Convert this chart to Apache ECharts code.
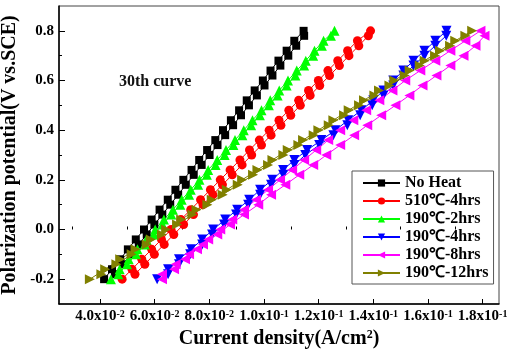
<!DOCTYPE html>
<html>
<head>
<meta charset="utf-8">
<script src="https://cdn.jsdelivr.net/npm/echarts@6/dist/echarts.min.js"></script>
<style>
  html, body { margin: 0; padding: 0; background: #fff; }
  #chart { width: 509px; height: 349px; }
</style>
</head>
<body>
<div id="chart"></div>
<script>
// potential steps of the forward and the return sweep (V vs. SCE)
var potFwd = [-0.2, -0.16, -0.12, -0.08, -0.04, 0, 0.04, 0.08, 0.12, 0.16, 0.2, 0.24, 0.28,
  0.32, 0.36, 0.4, 0.44, 0.48, 0.52, 0.56, 0.6, 0.64, 0.68, 0.72, 0.76, 0.8];
var potRev = [-0.18, -0.14, -0.1, -0.06, -0.02, 0.02, 0.06, 0.1, 0.14, 0.18, 0.22, 0.26, 0.3,
  0.34, 0.38, 0.42, 0.46, 0.5, 0.54, 0.58, 0.62, 0.66, 0.7, 0.74, 0.78];

// current density (A/cm2)
var noHeatFwd = [0.0415, 0.0444, 0.0474, 0.0502, 0.0531, 0.0561, 0.0589, 0.0618, 0.0648, 0.0676,
  0.0705, 0.0735, 0.0763, 0.0792, 0.0822, 0.0850, 0.0879, 0.0909, 0.0937, 0.0966, 0.0996, 0.1024,
  0.1053, 0.1083, 0.1111, 0.1145];
var noHeatRev = [0.0455, 0.0484, 0.0513, 0.0542, 0.0571, 0.0599, 0.0628, 0.0657, 0.0686, 0.0714,
  0.0743, 0.0772, 0.0801, 0.0830, 0.0858, 0.0887, 0.0916, 0.0945, 0.0974, 0.1002, 0.1031, 0.1060,
  0.1089, 0.1118, 0.1147];
var h510Fwd = [0.0481, 0.0517, 0.0553, 0.0589, 0.0625, 0.0660, 0.0696, 0.0732, 0.0768, 0.0804,
  0.0840, 0.0876, 0.0912, 0.0947, 0.0983, 0.1019, 0.1055, 0.1091, 0.1127, 0.1163, 0.1199, 0.1234,
  0.1270, 0.1306, 0.1342, 0.1390];
var h510Rev = [0.0528, 0.0564, 0.0599, 0.0635, 0.0670, 0.0706, 0.0742, 0.0777, 0.0813, 0.0848,
  0.0884, 0.0920, 0.0955, 0.0991, 0.1026, 0.1062, 0.1098, 0.1133, 0.1169, 0.1204, 0.1240, 0.1276,
  0.1311, 0.1347, 0.1382];
var h190h2Fwd = [0.0440, 0.0472, 0.0505, 0.0537, 0.0570, 0.0602, 0.0634, 0.0667, 0.0699, 0.0732,
  0.0764, 0.0796, 0.0829, 0.0861, 0.0894, 0.0926, 0.0958, 0.0991, 0.1023, 0.1056, 0.1088, 0.1120,
  0.1153, 0.1185, 0.1218, 0.1258];
var h190h2Rev = [0.0467, 0.0499, 0.0532, 0.0564, 0.0597, 0.0629, 0.0661, 0.0694, 0.0726, 0.0759,
  0.0791, 0.0823, 0.0856, 0.0888, 0.0921, 0.0953, 0.0985, 0.1018, 0.1050, 0.1083, 0.1115, 0.1147,
  0.1180, 0.1212, 0.1245];
var h190h4Fwd = [0.0609, 0.0649, 0.0689, 0.0733, 0.0774, 0.0814, 0.0858, 0.0902, 0.0946, 0.0986,
  0.1030, 0.1070, 0.1111, 0.1158, 0.1210, 0.1261, 0.1308, 0.1356, 0.1400, 0.1437, 0.1473, 0.1510,
  0.1547, 0.1587, 0.1627, 0.1668];
var h190h4Rev = [0.0649, 0.0689, 0.0730, 0.0774, 0.0810, 0.0854, 0.0898, 0.0942, 0.0986, 0.1026,
  0.1070, 0.1111, 0.1151, 0.1202, 0.1254, 0.1305, 0.1352, 0.1396, 0.1437, 0.1473, 0.1510, 0.1547,
  0.1587, 0.1627, 0.1667];
var h190h8Fwd = [0.0627, 0.0671, 0.0711, 0.0755, 0.0796, 0.0840, 0.0884, 0.0927, 0.0971, 0.1015,
  0.1059, 0.1103, 0.1147, 0.1191, 0.1235, 0.1279, 0.1327, 0.1374, 0.1422, 0.1470, 0.1517, 0.1572,
  0.1627, 0.1682, 0.1737, 0.1792];
var h190h8Rev = [0.0627, 0.0677, 0.0726, 0.0777, 0.0829, 0.0876, 0.0927, 0.0979, 0.1026, 0.1078,
  0.1129, 0.1180, 0.1228, 0.1279, 0.1330, 0.1378, 0.1429, 0.1481, 0.1532, 0.1580, 0.1631, 0.1682,
  0.1730, 0.1774, 0.1807];
var h190h12Fwd = [0.0363, 0.0419, 0.0474, 0.0530, 0.0586, 0.0642, 0.0697, 0.0753, 0.0809, 0.0864,
  0.0920, 0.0976, 0.1031, 0.1087, 0.1143, 0.1199, 0.1254, 0.1310, 0.1366, 0.1421, 0.1477, 0.1533,
  0.1588, 0.1644, 0.1700, 0.1762];
var h190h12Rev = [0.0405, 0.0460, 0.0516, 0.0571, 0.0627, 0.0682, 0.0738, 0.0793, 0.0849, 0.0904,
  0.0960, 0.1015, 0.1071, 0.1126, 0.1182, 0.1237, 0.1293, 0.1348, 0.1404, 0.1459, 0.1515, 0.1570,
  0.1626, 0.1681, 0.1737];

var names = ["No Heat", "510\u2103-4hrs", "190\u2103-2hrs", "190\u2103-4hrs", "190\u2103-8hrs", "190\u2103-12hrs"];
var colors = ["#000000", "#ff0000", "#00ff00", "#0000ff", "#ff00ff", "#808000"];

var xMajor = [0.04, 0.06, 0.08, 0.1, 0.12, 0.14, 0.16, 0.18];
var xMinor = [0.03, 0.05, 0.07, 0.09, 0.11, 0.13, 0.15, 0.17];
var yMajor = [-0.2, 0, 0.2, 0.4, 0.6, 0.8];
var yMinor = [-0.1, 0.1, 0.3, 0.5, 0.7];

// one cyclic curve: forward sweep up, return sweep down
function loop(fwd, rev) {
  var pts = [];
  for (var i = 0; i < fwd.length; i++) pts.push([fwd[i], potFwd[i]]);
  for (var j = rev.length - 1; j >= 0; j--) pts.push([rev[j], potRev[j]]);
  return pts;
}

var curves = [
  loop(noHeatFwd, noHeatRev),
  loop(h510Fwd, h510Rev),
  loop(h190h2Fwd, h190h2Rev),
  loop(h190h4Fwd, h190h4Rev),
  loop(h190h8Fwd, h190h8Rev),
  loop(h190h12Fwd, h190h12Rev)
];
var symbols = ["rect", "circle", "triangle", "triangle", "triangle", "triangle"];
var rotates = [0, 0, 0, 180, 90, -90];
var sizes = [8, 9, 10, 10, 10, 10];

var font = "Liberation Serif";

function xLabel(v) {
  var m, e;
  if (v < 0.095) { m = v * 100; e = "-2"; } else { m = v * 10; e = "-1"; }
  return "{b|" + m.toFixed(1) + "x10}{s|" + e + "}";
}

var series = names.map(function (n, i) {
  return {
    name: n,
    type: "line",
    data: curves[i],
    symbol: symbols[i],
    symbolRotate: rotates[i],
    symbolSize: sizes[i],
    showAllSymbol: true,
    itemStyle: { color: colors[i] },
    lineStyle: { color: colors[i], width: 1 },
    emphasis: { disabled: true }
  };
});

var myChart = echarts.init(document.getElementById("chart"));
var option = {
  animation: false,
  grid: {
    left: 59, right: 10, top: 6, bottom: 45,
    outerBoundsMode: "none",
    containLabel: false,
    show: true, borderColor: "#444", borderWidth: 1
  },
  legend: {
    orient: "vertical",
    left: 352, top: 171,
    padding: [4, 5, 3, 10],
    itemGap: 2,
    itemWidth: 37,
    itemHeight: 9,
    borderColor: "#555",
    borderWidth: 1,
    textStyle: { fontFamily: font, fontWeight: "bold", fontSize: 16, color: "#000" },
    data: names
  },
  graphic: [{
    type: "text",
    left: 119, top: 74,
    style: { text: "30th curve", font: "bold 16px " + font, fill: "#111" }
  }],
  xAxis: [{
    type: "value",
    min: 0.025, max: 0.186,
    name: "{a|Current density(A/cm}{s|2}{a|)}",
    nameLocation: "middle",
    nameGap: 23,
    nameTextStyle: {
      rich: {
        a: { fontFamily: font, fontWeight: "bold", fontSize: 20, color: "#000" },
        s: { fontFamily: font, fontWeight: "bold", fontSize: 12, color: "#000", verticalAlign: "top" }
      }
    },
    splitLine: { show: false },
    axisLine: { onZero: false, lineStyle: { color: "#000", width: 1.5 } },
    axisTick: { inside: true, length: 5, customValues: xMajor, lineStyle: { color: "#000" } },
    axisLabel: {
      customValues: xMajor,
      margin: 5,
      formatter: xLabel,
      rich: {
        b: { fontFamily: font, fontWeight: "bold", fontSize: 15, color: "#000" },
        s: { fontFamily: font, fontWeight: "bold", fontSize: 10, color: "#000", verticalAlign: "top" }
      }
    }
  }, {
    type: "value",
    min: 0.025, max: 0.186,
    position: "bottom",
    splitLine: { show: false },
    axisLine: { show: false },
    axisLabel: { show: false },
    axisTick: { inside: true, length: 3, customValues: xMinor, lineStyle: { color: "#000" } }
  }],
  yAxis: [{
    type: "value",
    min: -0.3, max: 0.9,
    name: "Polarization potential(V vs.SCE)",
    nameLocation: "middle",
    nameGap: 29,
    nameTextStyle: { fontFamily: font, fontWeight: "bold", fontSize: 20, color: "#000" },
    splitLine: { show: false },
    axisLine: { onZero: false, lineStyle: { color: "#000", width: 1.5 } },
    axisTick: { inside: true, length: 6, customValues: yMajor, lineStyle: { color: "#000" } },
    axisLabel: {
      customValues: yMajor,
      margin: 5,
      fontFamily: font, fontWeight: "bold", fontSize: 15, color: "#000",
      formatter: function (v) { return v.toFixed(1); }
    }
  }, {
    type: "value",
    min: -0.3, max: 0.9,
    position: "left",
    splitLine: { show: false },
    axisLine: { show: false },
    axisLabel: { show: false },
    axisTick: { inside: true, length: 3, customValues: yMinor, lineStyle: { color: "#000" } }
  }],
  series: series
};
myChart.setOption(option);
</script>
</body>
</html>
